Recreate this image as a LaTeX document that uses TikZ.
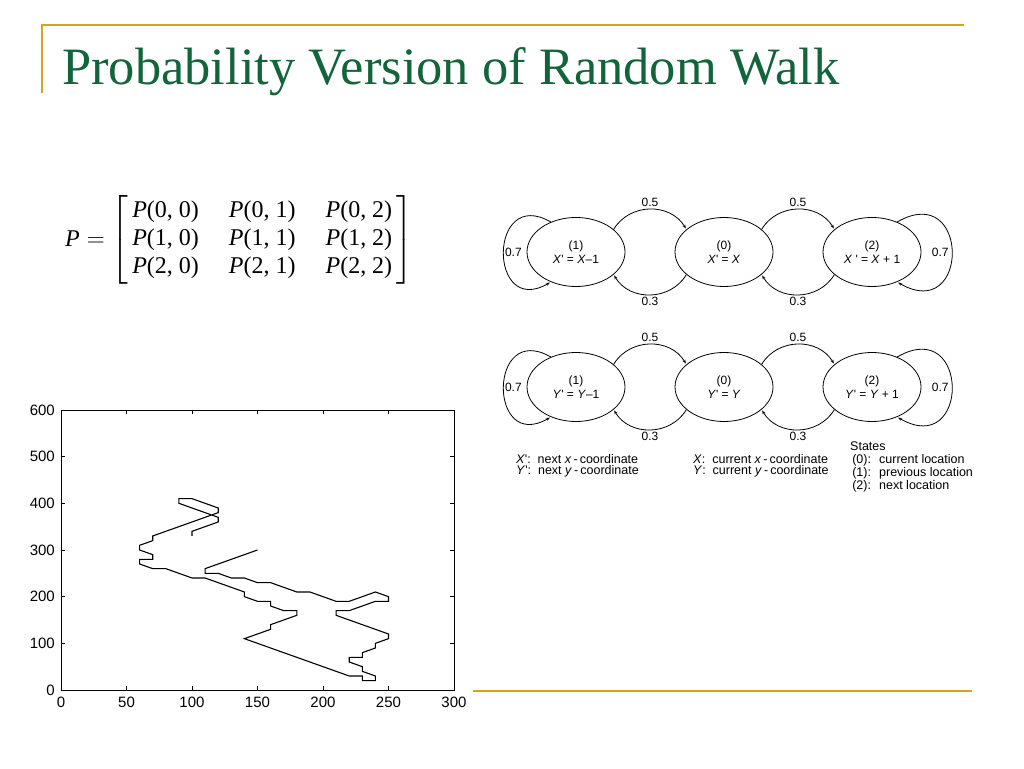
\documentclass[tikz,border=0pt]{standalone}
\usepackage{fontspec}
\usepackage{amsmath}
\setmainfont{Liberation Serif}
\newfontfamily\helv{Liberation Sans}
\usetikzlibrary{arrows.meta,positioning,shapes.geometric}
\definecolor{titlegreen}{RGB}{18,100,58}
\definecolor{rulegold}{RGB}{212,165,35}
\newcommand{\pent}[2]{\text{\textit{P}(#1, #2)}}

\begin{document}
\begin{tikzpicture}[x=1pt,y=1pt,node distance=148pt,on grid,auto,
   >={Stealth[length=4pt,width=3pt]},
   loc/.style={ellipse,draw,line width=0.8pt,minimum width=98pt,minimum height=69pt,
     inner sep=0pt,align=center,font=\helv\fontsize{12}{14}\selectfont},
   prob/.style={font=\helv\fontsize{12}{13}\selectfont,inner sep=2pt},
   legend/.style={anchor=west,align=left,inner sep=0pt,font=\helv\fontsize{12.5}{11}\selectfont},
   ticklab/.style={font=\helv\fontsize{15}{15}\selectfont,inner sep=0pt},
   walk/.style={line width=1.1pt}]
\useasboundingbox (0,0) rectangle (1024,768);
\draw[rulegold,line width=2pt] (42,675) -- (42,743) -- (964,743);
\draw[rulegold,line width=2pt] (473,77) -- (972,77);
\node[anchor=base west,inner sep=0pt,text=titlegreen,font=\fontsize{52.5}{60}\selectfont]
   (title) at (62,683) {Probability Version of Random Walk};
\node[font=\fontsize{24}{28}\selectfont,anchor=west,inner sep=0pt] (pmat) at (65,528)
   {\setlength{\arraycolsep}{15pt}\renewcommand{\arraystretch}{1.0}%
   $\text{\textit{P}} = \begin{bmatrix}
     \,\pent{0}{0} & \pent{0}{1} & \pent{0}{2}\,\\
     \,\pent{1}{0} & \pent{1}{1} & \pent{1}{2}\,\\
     \,\pent{2}{0} & \pent{2}{1} & \pent{2}{2}\,
   \end{bmatrix}$};

\node[loc] (x0) at (724,516) {(0)\\\textit{X}' = \textit{X}};
\node[loc] (x1) [left=of x0] {(1)\\\textit{X}' = \textit{X}\textendash1};
\node[loc] (x2) [right=of x0] {(2)\\\textit{X} ' = \textit{X} + 1};
\path[->,line width=0.8pt,shorten >=1pt,every node/.style={prob}]
   (x1.31)  edge [out=59,in=121,looseness=1.1] node {0.5} (x0.149)
   (x0.211) edge [out=-121,in=-59,looseness=1.1] node {0.3} (x1.329)
   (x0.31)  edge [out=59,in=121,looseness=1.1] node {0.5} (x2.149)
   (x2.211) edge [out=-121,in=-59,looseness=1.1] node {0.3} (x0.329)
   (x1.130) edge [out=150,in=210,looseness=3.1] node [inner sep=1pt] {0.7} (x1.230)
   (x2.50)  edge [out=30,in=-30,looseness=3.6] node [swap,inner sep=3pt] {0.7} (x2.-50);

\node[loc] (y0) [below=135pt of x0] {(0)\\\textit{Y}' = \textit{Y}};
\node[loc] (y1) [left=of y0] {(1)\\\textit{Y}' = \textit{Y}\textendash1};
\node[loc] (y2) [right=of y0] {(2)\\\textit{Y}' = \textit{Y} + 1};
\path[->,line width=0.8pt,shorten >=1pt,every node/.style={prob}]
   (y1.31)  edge [out=59,in=121,looseness=1.1] node {0.5} (y0.149)
   (y0.211) edge [out=-121,in=-59,looseness=1.1] node {0.3} (y1.329)
   (y0.31)  edge [out=59,in=121,looseness=1.1] node {0.5} (y2.149)
   (y2.211) edge [out=-121,in=-59,looseness=1.1] node {0.3} (y0.329)
   (y1.130) edge [out=150,in=210,looseness=3.1] node [inner sep=1pt] {0.7} (y1.230)
   (y2.50)  edge [out=30,in=-30,looseness=3.6] node [swap,inner sep=3pt] {0.7} (y2.-50);

\node[legend] (nextc) at (516,302)
   {\textit{X}': \ next \textit{x}\,-\,coordinate\\\textit{Y}': \ next \textit{y}\,-\,coordinate};
\node[legend] (curc) at (693,302)
   {\textit{X}: \ current \textit{x}\,-\,coordinate\\\textit{Y}: \ current \textit{y}\,-\,coordinate};
\node[legend,font=\helv\fontsize{12.5}{13}\selectfont] (states) at (850,301.5)
   {States\\\,(0): \ current location\\\,(1): \ previous location\\\,(2): \ next location};

\begin{scope}[shift={(61,78)},x=1.31pt,y=0.4667pt]
  \draw[line width=0.8pt] (0,0) rectangle (300,600);
  \foreach \tx in {0,50,...,300} {
    \draw[line width=0.8pt] (\tx,0) -- ++(0pt,4pt) (\tx,600) -- ++(0pt,-4pt);
    \node[ticklab,below=7pt] (xl\tx) at (\tx,0) {\tx};
  }
  \foreach \ty in {0,100,...,600} {
    \draw[line width=0.8pt] (0,\ty) -- ++(4pt,0pt) (300,\ty) -- ++(-4pt,0pt);
    \node[ticklab,left=6pt] (yl\ty) at (0,\ty) {\ty};
  }
  \draw[walk] plot coordinates {(150,300) (110,260) (110,250) (120,250) (130,240)
    (140,240) (150,230) (160,230) (180,210) (190,210) (210,190) (220,190) (240,210)
    (250,200) (250,190) (240,190) (220,170) (210,170) (210,160) (250,120) (250,110)
    (240,100) (240,90) (230,80) (230,70) (220,70) (220,60) (230,50) (230,40) (240,30)
    (240,20) (230,20) (230,30) (220,30) (140,110) (160,130) (160,140) (180,160)
    (180,170) (170,170) (160,180) (160,190) (150,190) (140,200) (140,210) (110,240)
    (100,240) (80,260) (70,260) (60,270) (60,280) (70,280) (70,290) (60,300) (60,310)
    (70,320) (70,330) (110,370) (120,380) (120,390) (100,410) (90,410) (90,400)
    (110,380) (120,370) (120,360) (100,340) (100,330)};
\end{scope}
\end{tikzpicture}
\end{document}
